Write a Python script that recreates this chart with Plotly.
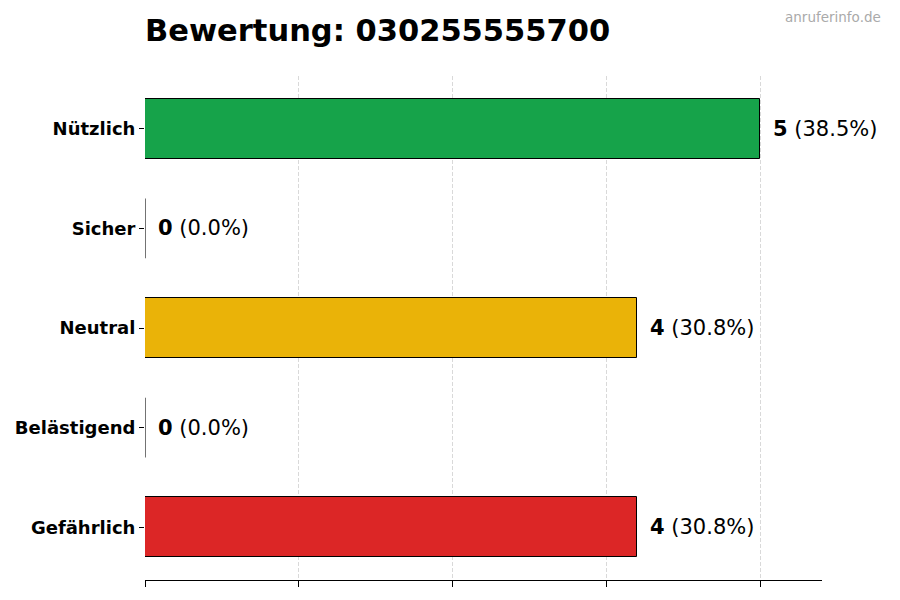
import plotly.graph_objects as go

categories = ["Gefährlich", "Belästigend", "Neutral", "Sicher", "Nützlich"]
counts = [4, 0, 4, 0, 5]
colors = ["#dc2626", "#dc2626", "#eab308", "#16a34a", "#16a34a"]
title_text = "Bewertung: 030255555700"
watermark = "anruferinfo.de"
x_ticks = [0, 1.25, 2.5, 3.75, 5]

total = sum(counts)
positions = list(range(len(categories)))
xmax = max(counts) * 1.1
bar_w = 0.6

fig = go.Figure()
fig.add_trace(go.Bar(
    x=counts, y=positions, orientation="h", width=bar_w,
    marker=dict(color=colors, line=dict(color="black", width=1)),
    hoverinfo="skip", showlegend=False,
))

# outline of zero-length bars (drawn as a thin edge line)
zx, zy = [], []
for p, c in zip(positions, counts):
    if c == 0:
        zx += [0, 0, None]
        zy += [p - bar_w / 2, p + bar_w / 2, None]
fig.add_trace(go.Scatter(x=zx, y=zy, mode="lines", line=dict(color="black", width=1),
                         hoverinfo="skip", showlegend=False, cliponaxis=False))

for p, c in zip(positions, counts):
    pct = 100.0 * c / total if total else 0
    fig.add_annotation(
        x=c, y=p, xref="x", yref="y", xanchor="left", yanchor="middle",
        xshift=11, showarrow=False,
        text=f"<b>{c}</b> ({pct:.1f}%)",
        font=dict(family="DejaVu Sans", size=21, color="black"),
    )

fig.add_annotation(
    xref="paper", yref="paper",
    x=(883 - 145) / (900 - 145 - 78), y=1 + (76 - 17) / (600 - 76 - 20),
    text=watermark, showarrow=False,
    font=dict(family="DejaVu Sans", size=13.5, color="#aaaaaa"),
    xanchor="right", yanchor="middle",
)

fig.update_layout(
    width=900, height=600,
    margin=dict(l=145, r=78, t=76, b=20),
    plot_bgcolor="white", paper_bgcolor="white",
    font=dict(family="DejaVu Sans", color="black"),
    title=dict(text=f"<b>{title_text}</b>", x=0, xref="paper", xanchor="left",
               y=1 - 30 / 600, yref="container", yanchor="middle",
               font=dict(family="DejaVu Sans", size=30.5, color="black")),
    bargap=0,
)
fig.update_xaxes(
    range=[-0.0005, xmax], tickvals=x_ticks, showticklabels=False,
    ticks="outside", ticklen=6, tickcolor="black", tickwidth=1,
    showgrid=True, gridcolor="rgba(170,170,170,0.45)", griddash="4px,2px", gridwidth=1,
    zeroline=False, showline=True, linecolor="black", linewidth=1,
    layer="above traces", fixedrange=True,
)
fig.update_yaxes(
    range=[-0.53, len(categories) - 1 + 0.53],
    tickvals=positions, ticktext=[f"<b>{c}</b>" for c in categories],
    tickfont=dict(family="DejaVu Sans", size=18, color="black"),
    ticks="outside", ticklen=5, tickcolor="black", tickwidth=1,
    showgrid=False, zeroline=False, showline=False, fixedrange=True,
)

fig.write_html("out.html")
